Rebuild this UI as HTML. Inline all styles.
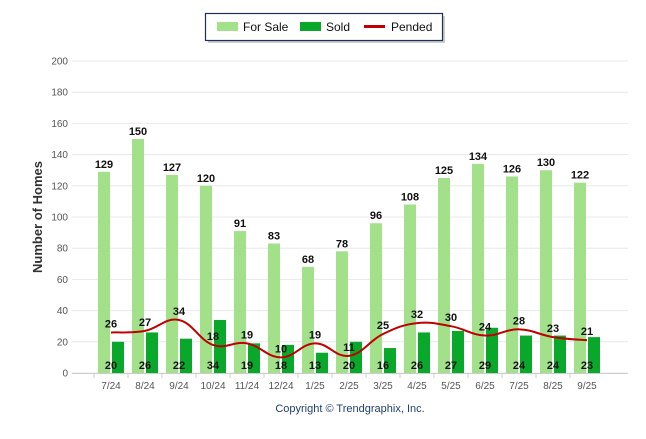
<!DOCTYPE html>
<html><head><meta charset="utf-8"><style>
body{margin:0;background:#fff;font-family:"Liberation Sans",sans-serif}
</style></head><body>
<svg id="c" width="646" height="434" xmlns="http://www.w3.org/2000/svg" font-family="Liberation Sans, sans-serif"></svg>
<script>
const categories=["7/24","8/24","9/24","10/24","11/24","12/24","1/25","2/25","3/25","4/25","5/25","6/25","7/25","8/25","9/25"];
const forSale=[129,150,127,120,91,83,68,78,96,108,125,134,126,130,122];
const sold=[20,26,22,34,19,18,13,20,16,26,27,29,24,24,23];
const pended=[26,27,34,18,19,10,19,11,25,32,30,24,28,23,21];
const yTicks=[0,20,40,60,80,100,120,140,160,180,200];
const svg=document.getElementById('c');
const NS='http://www.w3.org/2000/svg';
function y(v){return 373-v*1.56;}
function x(i){return 111+i*34.0;}
function mk(t,a,p){const e=document.createElementNS(NS,t);for(const k in a)e.setAttribute(k,a[k]);(p||svg).appendChild(e);return e;}
// legend
const lg=mk('g',{});


mk('rect',{x:208,y:16,width:237,height:27,fill:'#ccc'},lg);
mk('rect',{x:205.5,y:13.5,width:237,height:27,fill:'#fff',stroke:'#1f2f55','stroke-width':1.2},lg);
mk('rect',{x:217,y:22,width:21,height:9,fill:'#a2e08a'},lg);
mk('text',{x:243,y:31,'font-size':12,fill:'#111'},lg).textContent='For Sale';
mk('rect',{x:300,y:22,width:21,height:9,fill:'#0aa82a'},lg);
mk('text',{x:326,y:31,'font-size':12,fill:'#111'},lg).textContent='Sold';
mk('rect',{x:364,y:25,width:21,height:3,fill:'#c00000'},lg);
mk('text',{x:391,y:31,'font-size':12,fill:'#111'},lg).textContent='Pended';
// grid
yTicks.forEach(v=>{
 const l=mk('line',{x1:72,x2:628,y1:y(v),y2:y(v),stroke:'#e8e8e8','stroke-width':1});
 
 
 const t=mk('text',{x:68,y:y(v)+3.5,'font-size':10,fill:'#555','text-anchor':'end'});
 
 
 t.textContent=v;
});
mk('line',{x1:72,x2:628,y1:373.5,y2:373.5,stroke:'#ccc'});
const yt=mk('text',{x:42,y:217,'font-size':13,'font-weight':'bold',fill:'#333','text-anchor':'middle',transform:'rotate(-90 42 217)'});


yt.textContent='Number of Homes';
categories.forEach((c,i)=>{
 const cx=x(i);
 const b1=mk('rect',{x:cx-13,y:y(forSale[i]),width:12,height:forSale[i]*1.56,fill:'#a2e08a'});
 
 
 const b2=mk('rect',{x:cx+1,y:y(sold[i]),width:12,height:sold[i]*1.56,fill:'#0aa82a'});
 
 
 const t=mk('text',{x:cx,y:389,'font-size':10,fill:'#555','text-anchor':'middle'});
 
 
 t.textContent=c;
 mk('line',{x1:cx-17,x2:cx-17,y1:374,y2:378,stroke:'#ccc'});
});
// pended smooth line
let d='';
const pts=pended.map((v,i)=>[x(i),y(v)]);
pts.forEach((p,i)=>{
 if(i==0){d+='M'+p[0]+','+p[1];return;}
 const p0=pts[i-2]||pts[i-1],p1=pts[i-1],p3=pts[i+1]||p;
 const s=0.2;
 d+=' C'+(p1[0]+(p[0]-p0[0])*s)+','+(p1[1]+(p[1]-p0[1])*s)+' '+(p[0]-(p3[0]-p1[0])*s)+','+(p[1]-(p3[1]-p1[1])*s)+' '+p[0]+','+p[1];
});
const pl=mk('path',{d:d,fill:'none',stroke:'#c00000','stroke-width':2});


categories.forEach((c,i)=>{
 const cx=x(i);
 const a=mk('text',{x:cx-7,y:y(forSale[i])-4,'font-size':11,'font-weight':'bold',fill:'#111','text-anchor':'middle'});
 
 
 a.textContent=forSale[i];
 const b=mk('text',{x:cx,y:369,'font-size':11,'font-weight':'bold',fill:'#111','text-anchor':'middle'});
 
 
 b.textContent=sold[i];
 const p=mk('text',{x:cx,y:y(pended[i])-5,'font-size':11,'font-weight':'bold',fill:'#111','text-anchor':'middle'});
 
 
 p.textContent=pended[i];
});
const cp=mk('text',{x:350,y:412,'font-size':11,fill:'#1f3f6f','text-anchor':'middle'});


cp.textContent='Copyright © Trendgraphix, Inc.';
</script>
</body></html>
